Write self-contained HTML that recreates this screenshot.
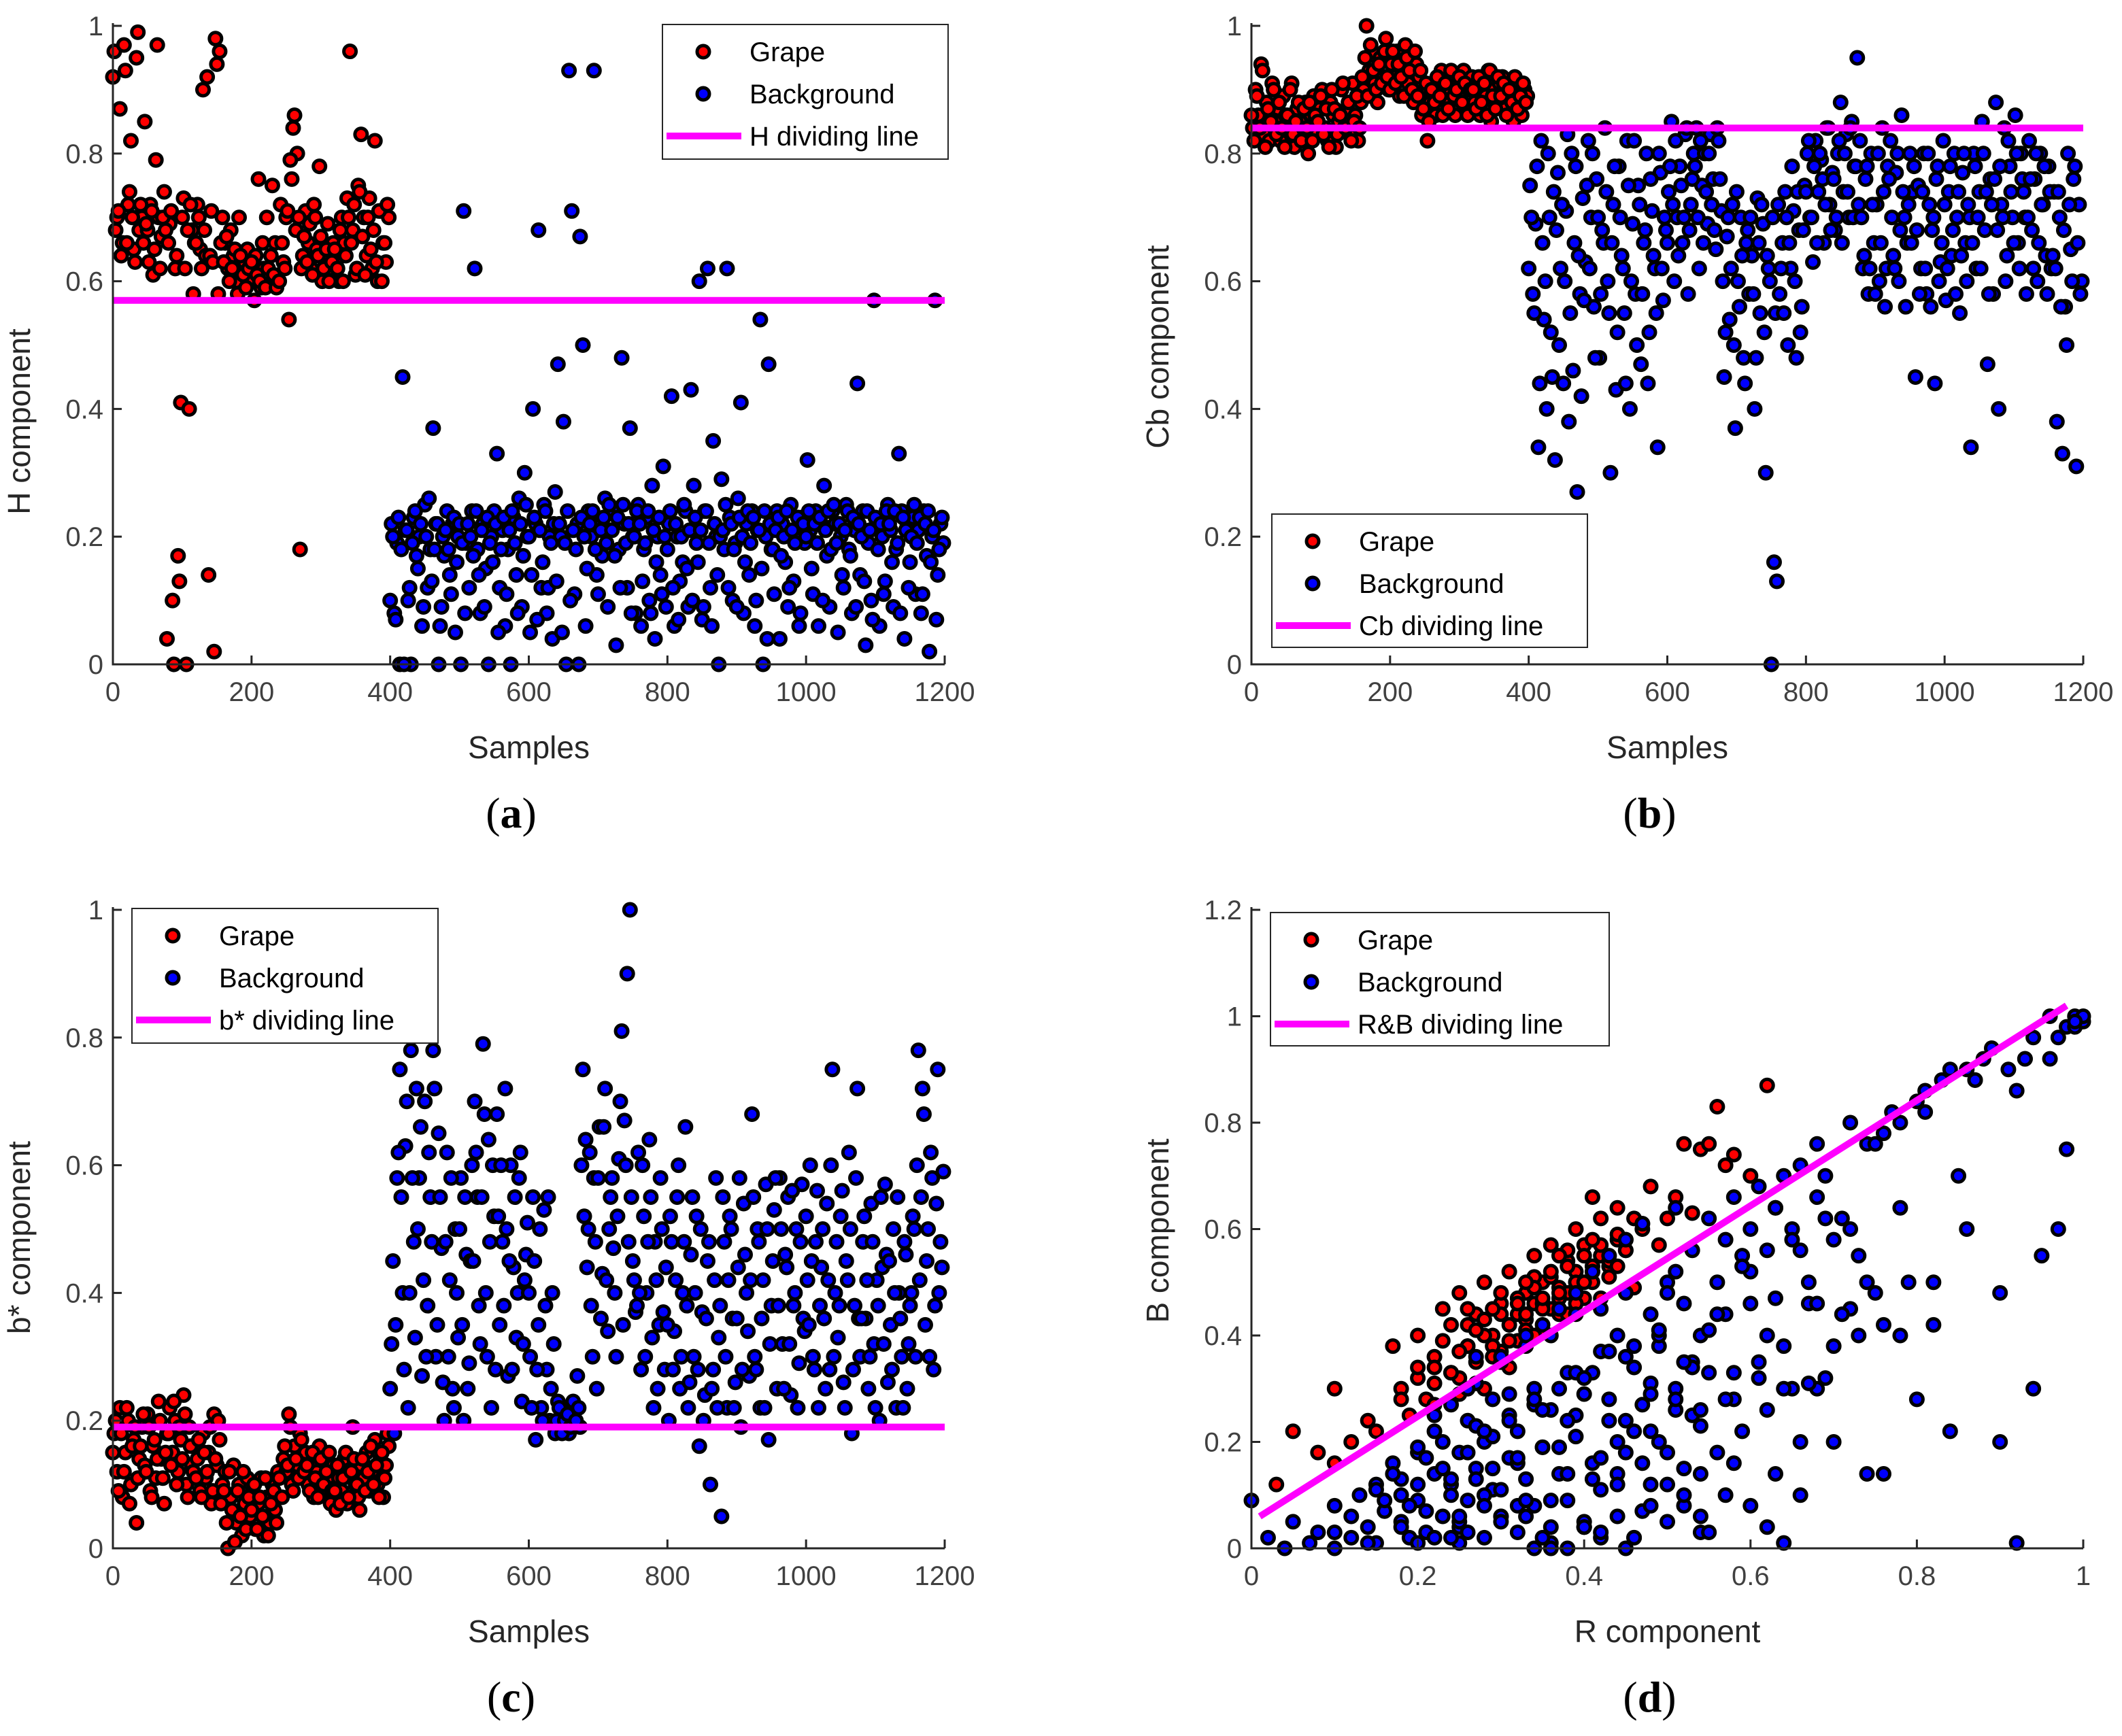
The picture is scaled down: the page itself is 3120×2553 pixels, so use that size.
<!DOCTYPE html>
<html><head><meta charset="utf-8">
<style>
html,body{margin:0;padding:0;background:#fff;}
svg{display:block;font-family:"Liberation Sans",sans-serif;}
</style></head>
<body>
<svg id="fig" width="3120" height="2553" viewBox="0 0 3120 2553" xmlns="http://www.w3.org/2000/svg"></svg>
<script>
// ---------- data (hundredths) ----------
const hGrape=[96,70,87,66,93,72,82,65,95,68,70,85,68,72,61,79,70,67,74,4,69,10,62,17,41,73,0,40,68,66,72,65,90,64,14,71,2,94,96,70,66,62,68,64,60,70,62,63,65,61,60,64,76,59,62,70,61,75,66,60,72,63,70,54,76,86,80,18,64,71,66,62,72,65,78,60,64,69,62,66,63,60,70,66,73,96,68,61,75,83,70,64,73,62,82,60,71,66,63,70];
const hGrape2=[92,68,71,64,97,66,74,70,63,99,72,66,69,63,71,65,97,62,70,68,66,71,0,64,13,70,62,68,72,58,66,70,62,68,92,64,63,98,58,66,63,67,60,62,65,58,64,61,59,62,63,57,61,60,66,59,62,64,61,59,60,66,62,71,79,84,68,70,62,67,63,69,61,70,64,67,62,65,60,63,65,62,68,60,64,70,66,72,62,74,67,61,70,65,68,63,71,60,66,72];
const hBack=[22,8,19,0,45,21,10,0,23,17,20,6,25,12,18,37,22,0,9,17,24,14,22,5,20,0,71,19,12,24,62,18,8,22,15,0,20,24,33,12,21,6,18,0,23,14,26,9,30,20,5,40,22,68,12,25,8,20,4,27,47,20,38,0,93,71,11,22,67,50,6,24,20,93,14,22,17,26,9,21,24,3,18,48,22,12,37,20,8,25,6,18,23,10,28,4,20,14,31,9,22,42,6,20,13,16,24,9,43,28,19,60,7,24,62,12,35,20,0,29,18,62,23,10,19,26,41,8,22,14,24,6,21,54,0,20,47,18,11,24,4,22,16,9,25,13,20,6,23,19,32,21,11,24,6,22,28,17,9,24,22,5,20,12,25,18,8,21,44,14,24,3,19,10,57,22,6,20,13,25,21,9,18,33,24,4,22,16,23,11,21,8,24,17,2,20,57,14,22,19];
const hBack2=[10,20,7,23,18,0,21,12,19,24,15,22,9,20,26,13,18,22,6,20,21,18,11,23,16,22,19,8,22,20,17,24,14,21,9,23,19,16,22,5,18,23,11,21,24,19,8,22,17,25,20,14,23,7,21,16,24,12,19,22,13,22,5,19,24,10,21,18,0,23,20,15,22,24,18,11,21,23,19,25,21,17,23,12,25,19,22,8,20,24,22,13,19,24,8,21,16,23,11,20,18,24,12,22,7,20,25,15,21,10,23,16,21,9,24,19,6,22,14,20,21,25,12,22,18,9,23,20,16,24,19,23,10,21,15,24,4,22,18,21,23,17,20,24,12,21,19,23,8,22,20,24,15,22,19,23,10,21,24,18,25,19,22,14,21,24,17,23,9,22,20,13,24,21,7,23,18,22,11,24,22,16,24,19,8,23,21,12,20,25,19,23,11,22,24,16,21,7,18,23];
const cbGrape=[84,90,86,94,83,88,82,91,85,87,82,89,86,84,91,81,87,85,83,88,80,86,89,83,87,90,84,82,88,86,81,85,90,84,87,83,91,86,82,88,90,100,93,96,91,88,95,92,98,90,94,92,96,89,93,97,91,95,88,94,92,86,90,82,88,91,86,89,93,87,90,88,92,86,91,89,93,87,90,92,88,91,86,92,89,93,85,90,88,91,92,87,90,89,85,91,88,86,90,89];
const cbGrape2=[86,82,89,84,93,81,87,85,90,83,88,84,81,86,90,83,85,88,82,87,84,88,82,86,85,89,83,87,81,90,87,83,86,91,84,88,82,85,89,84,92,95,89,97,93,90,94,91,96,92,90,96,91,94,92,89,95,93,90,96,89,93,87,91,85,90,88,92,89,86,91,87,93,89,90,92,88,91,86,90,90,87,92,88,91,86,93,89,87,92,89,91,86,90,88,92,87,89,91,88];
const cbBack=[75,58,69,34,82,54,40,70,45,32,77,62,44,71,38,80,66,27,58,73,63,82,70,56,76,48,68,84,60,30,72,43,78,64,55,82,40,69,58,75,47,66,80,52,71,62,34,77,57,68,74,85,60,70,78,66,83,58,72,80,84,62,75,80,69,83,76,65,82,71,45,67,54,72,37,60,70,48,66,58,64,40,73,55,69,30,62,0,16,13,58,66,74,50,62,71,48,68,56,75,80,70,63,82,74,79,66,84,72,77,68,80,88,74,83,70,85,78,95,82,62,76,58,80,66,72,60,84,56,78,82,64,77,60,86,70,66,80,74,45,75,62,80,58,72,68,44,78,63,82,57,74,64,80,70,55,77,66,72,34,80,62,74,85,68,47,76,58,88,40,72,84,64,78,70,86,66,80,74,58,82,68,76,60,80,72,64,78,62,74,38,70,33,56,80,65,76,31,72,60];
const cbBack2=[62,70,55,78,44,66,60,80,52,74,68,50,72,60,83,55,46,78,64,42,57,75,62,80,48,70,58,66,74,55,66,78,52,70,62,44,75,60,82,50,72,58,68,44,76,64,55,80,62,70,66,78,72,82,64,75,70,84,68,76,78,70,82,66,74,80,72,68,84,76,60,52,70,62,50,74,56,64,44,68,70,58,48,66,72,52,64,60,70,55,72,62,55,70,66,78,60,74,52,68,74,82,70,78,66,80,76,72,84,68,76,70,82,66,80,74,84,70,78,72,70,64,78,62,72,58,80,66,74,62,76,70,62,80,68,74,56,72,66,78,68,58,74,62,80,56,70,76,60,66,72,62,78,68,58,74,64,80,60,70,66,78,70,62,80,74,58,72,76,68,78,70,60,82,74,66,80,62,76,70,70,76,62,80,66,72,78,58,74,64,62,74,56,68,50,72,60,78,66,58];
const bGrape=[18,12,22,8,15,20,10,17,4,14,19,13,21,9,16,11,23,14,7,18,22,15,20,12,17,24,10,19,13,16,14,9,18,11,15,7,21,13,17,10,12,0,8,13,4,10,2,7,11,5,9,3,7,11,2,8,4,10,6,12,8,14,12,21,10,16,13,18,11,15,10,13,8,12,16,9,14,11,7,13,6,11,9,14,7,12,19,10,8,13,11,15,9,12,17,10,14,8,13,16];
const bGrape2=[15,20,9,18,12,22,7,16,19,11,16,21,12,19,8,17,14,20,11,15,18,13,23,10,19,14,21,8,16,12,11,17,8,15,12,19,9,14,20,7,9,4,12,6,1,9,5,12,3,8,6,10,3,8,5,11,2,7,9,4,11,8,16,13,19,9,14,11,17,12,13,9,15,11,8,14,10,12,15,9,9,13,7,11,15,8,12,14,10,6,14,9,12,16,10,13,8,15,11,18];
const bBack=[32,18,58,75,40,63,22,78,48,72,58,27,70,38,55,78,30,65,47,20,62,42,25,50,33,58,20,46,29,60,70,55,32,79,40,64,22,52,68,35,48,72,27,60,44,33,58,23,42,51,30,55,17,35,22,53,28,20,40,18,23,20,19,21,18,22,20,27,19,75,64,50,38,58,25,66,43,72,34,55,47,30,61,81,67,90,100,45,37,62,28,52,40,64,33,48,25,58,37,44,20,48,34,55,25,40,66,22,46,30,52,16,37,24,45,10,28,58,33,5,48,22,52,36,26,44,19,54,40,27,68,30,50,22,42,57,17,38,53,25,58,32,46,55,24,38,50,29,57,34,42,60,30,48,22,44,36,54,28,75,40,33,52,26,45,62,18,38,72,30,48,36,25,54,32,42,20,44,57,26,35,50,22,40,30,48,25,38,52,30,78,55,68,45,30,58,38,75,48,59];
const bBack2=[25,45,35,62,55,28,70,40,58,33,50,66,42,30,62,48,72,35,55,26,48,30,58,22,40,50,35,55,25,45,45,62,38,55,68,30,48,60,28,52,60,38,50,45,28,55,40,62,32,46,40,22,45,28,50,20,38,55,25,32,20,22,18,20,21,19,23,20,22,60,52,44,62,30,48,58,36,66,42,50,58,40,52,70,35,60,48,55,42,38,40,60,30,48,55,22,42,35,50,28,35,52,28,42,60,30,48,38,26,55,40,28,50,20,36,48,25,42,22,38,55,30,42,50,22,36,58,28,46,34,42,55,28,48,36,22,50,32,45,58,38,50,25,44,32,56,40,22,48,36,52,35,45,28,56,38,50,25,42,60,30,48,38,56,22,42,50,28,58,36,36,52,42,30,48,22,38,55,32,46,45,28,40,55,36,22,46,32,40,50,60,42,72,35,50,62,28,54,40,44];
const dGrapeR=[3,5,8,10,10,12,14,15,17,18,19,20,20,21,22,22,23,24,24,25,25,26,27,27,28,28,29,30,30,31,31,32,32,33,33,34,34,35,35,36,36,37,37,38,38,39,39,40,40,41,41,42,42,43,44,44,45,46,47,48,50,52,54,55,56,58,60,62,22,26,30,34,38,29,33,37,41,25,35,45,24,26,28,29,30,31,32,33,34,35,36,37,38,39,40,41,42,43,44,45,27,29,31,33,35,37,39,41,43,25,28,30,32,34,36,38,40,42,44,46,18,20,22,23,26,47,49,51,53,57];
const dGrapeB=[12,22,18,30,16,20,24,22,38,30,25,40,32,28,36,27,45,33,42,29,48,38,35,44,30,50,40,46,37,34,52,44,39,48,43,55,46,41,50,45,57,49,44,54,48,60,52,47,57,50,66,55,62,53,58,64,56,62,60,68,62,76,75,76,83,74,70,87,34,42,48,51,56,38,44,47,53,32,46,58,33,38,40,36,44,42,47,41,49,45,51,48,53,50,55,52,57,54,59,56,41,45,39,50,47,55,46,58,51,37,43,35,46,40,52,44,50,47,53,49,28,34,31,39,45,61,57,66,63,72];
const dBackR=[0,2,4,5,7,8,10,10,12,13,14,15,15,16,17,18,18,19,20,20,21,22,22,23,24,24,25,25,26,26,27,27,28,28,29,29,30,30,31,31,32,32,33,33,34,34,35,35,36,36,37,37,38,38,39,39,40,40,41,41,42,42,43,43,44,44,45,45,46,46,47,47,48,48,49,49,50,50,51,51,52,52,53,53,54,54,55,55,56,56,57,57,58,58,59,59,60,60,61,61,62,62,63,63,64,64,65,65,66,66,67,67,68,68,69,70,71,72,73,74,75,76,77,78,79,80,81,82,83,84,85,86,87,88,89,90,91,92,93,94,95,96,97,97,98,98,99,99,100,100,30,35,40,45,50,55,25,32,38,44,28,36,42,48,52,58,62,68,72,78,82,86,90,94,96,74,80,84,60,66,20,26,34,40,46,54,64,70,76,92,
10,12,14,16,18,20,21,22,23,24,25,26,27,28,29,30,31,32,33,34,35,36,37,38,39,40,41,42,43,44,45,46,47,48,49,50,51,52,53,54,15,17,19,21,23,25,27,29,31,33,35,37,39,41,43,45,47,49,51,53,20,22,24,26,28,30,32,34,36,38,40,42,44,46,48,50,52,54,56,58,60,62,64,66,68,70,72,74,76,78,55,57,59,61,63,65,67,69,71,73,18,24,30,36,42,48,54,27,33,39,45,51,57,63,69,75,81,87,93,99];
const dBackB=[9,2,0,5,1,3,8,0,2,10,4,12,1,7,16,5,13,2,9,18,3,14,22,6,12,27,4,18,9,24,15,31,2,20,11,28,6,35,17,25,3,22,13,38,8,30,19,42,1,26,14,45,9,33,21,48,4,29,16,52,11,37,24,55,6,40,18,58,2,34,27,61,12,44,20,38,5,50,30,64,15,46,25,56,3,40,33,62,18,50,10,44,28,66,22,55,8,60,32,68,26,56,14,64,38,70,30,60,20,72,46,50,66,76,32,58,62,80,40,76,48,78,82,80,50,84,86,42,88,90,70,90,88,92,94,48,90,86,92,96,55,92,96,60,98,75,100,98,99,100,6,2,5,0,12,3,1,8,0,14,10,4,2,22,8,16,4,30,45,40,50,60,20,30,100,14,28,22,46,10,1,3,0,4,2,6,1,20,14,1,
3,6,1,9,4,12,7,2,15,10,5,18,13,8,21,11,24,16,6,27,19,9,30,14,25,4,33,17,28,12,36,22,7,31,40,18,26,10,35,23,11,14,8,17,20,6,23,15,29,9,26,19,33,13,37,24,16,41,28,34,19,25,13,30,22,36,17,28,40,24,32,45,20,38,29,48,35,26,44,33,52,40,30,56,46,38,60,50,42,64,41,28,53,35,47,58,31,62,44,55,10,2,5,0,3,8,14,36,40,44,48,52,58,64,70,76,82,88,92,99];
const xTicksSamples=[0,200,400,600,800,1000,1200];
const yTicks01=[0,0.2,0.4,0.6,0.8,1];
const yTicksD=[0,0.2,0.4,0.6,0.8,1,1.2];
const xTicksD=[0,0.2,0.4,0.6,0.8,1];
const thresholdH=0.57, thresholdCb=0.84, thresholdB=0.19;
const dLineR=[0.01,0.98], dLineB=[0.06,1.02];

const NS="http://www.w3.org/2000/svg";
const fig=document.getElementById('fig');
function mk(tag,attrs,parent){const e=document.createElementNS(NS,tag);for(const k in attrs)e.setAttribute(k,attrs[k]);(parent||fig).appendChild(e);return e;}

function panel(cfg){
  const g=mk('g',{});
  
  
  const sx=v=>cfg.x0+(v-cfg.xmin)/(cfg.xmax-cfg.xmin)*(cfg.x1-cfg.x0);
  const sy=v=>cfg.y0-(v-cfg.ymin)/(cfg.ymax-cfg.ymin)*(cfg.y0-cfg.y1);
  const drawPts=(xs,ys,fill,nm)=>{
    const sg=mk('g',{},g);
    
    
    for(let i=0;i<ys.length;i++){
      const c=mk('circle',{cx:sx(xs[i]),cy:sy(ys[i]),r:9,fill:fill,stroke:'#000','stroke-width':5},sg);
      
      
    }
  };
  drawPts(cfg.gx,cfg.gy,'#ff0000','grape-series');
  drawPts(cfg.bx,cfg.by,'#0000ff','background-series');
  const ln=mk('line',{x1:sx(cfg.lx[0]),y1:sy(cfg.ly[0]),x2:sx(cfg.lx[1]),y2:sy(cfg.ly[1]),stroke:'#ff00ff','stroke-width':10},g);
  
  
  const ax=mk('path',{d:`M${cfg.x0},${cfg.y1-4}V${cfg.y0}H${cfg.x1}`,fill:'none',stroke:'#262626','stroke-width':3},g);
  
  
  cfg.xt.forEach(v=>{
    mk('line',{x1:sx(v),x2:sx(v),y1:cfg.y0,y2:cfg.y0-13,stroke:'#262626','stroke-width':3},g);
    const t=mk('text',{x:sx(v),y:cfg.y0+54,'text-anchor':'middle','font-size':40,fill:'#404040'},g);
    
    
    t.textContent=String(v);
  });
  cfg.yt.forEach(v=>{
    mk('line',{x1:cfg.x0,x2:cfg.x0+13,y1:sy(v),y2:sy(v),stroke:'#262626','stroke-width':3},g);
    const t=mk('text',{x:cfg.x0-14,y:sy(v)+14,'text-anchor':'end','font-size':40,fill:'#404040'},g);
    
    
    t.textContent=String(v);
  });
  const xl=mk('text',{x:(cfg.x0+cfg.x1)/2,y:cfg.y0+138,'text-anchor':'middle','font-size':46,fill:'#262626'},g);
  
  
  xl.textContent=cfg.xlabel;
  const yl=mk('text',{x:0,y:0,'text-anchor':'middle','font-size':46,fill:'#262626',transform:`translate(${cfg.ylx},${cfg.yly}) rotate(-90)`},g);
  
  
  yl.textContent=cfg.ylabel;
  const cap=mk('text',{x:(cfg.x0+cfg.x1)/2-26,y:cfg.y0+240,'text-anchor':'middle','font-size':64,fill:'#000','font-family':'Liberation Serif, serif'},g);
  
  
  cap.innerHTML='(<tspan font-weight="bold">'+cfg.cap+'</tspan>)';
  const L=cfg.leg;
  const lg=mk('g',{},g);
  
  
  mk('rect',{x:L[0],y:L[1],width:L[2],height:L[3],fill:'#fff',stroke:'#262626','stroke-width':2},lg);
  const rows=[['Grape','#ff0000'],['Background','#0000ff'],[cfg.lname,null]];
  rows.forEach((r,i)=>{
    const cy=L[1]+40+i*62;
    if(r[1]){const c=mk('circle',{cx:L[0]+60,cy:cy,r:9,fill:r[1],stroke:'#000','stroke-width':5},lg);
      
      }
    else{const l=mk('line',{x1:L[0]+6,x2:L[0]+116,y1:cy,y2:cy,stroke:'#ff00ff','stroke-width':10},lg);
      
      }
    const t=mk('text',{x:L[0]+128,y:cy+14,'font-size':40,fill:'#000'},lg);
    
    
    t.textContent=r[0];
  });
}
const idx=(n,off)=>Array.from({length:n},(_,i)=>off+i*4+2);
const idx2=(n,off)=>Array.from({length:n},(_,i)=>off+i*4);
const pct=a=>a.map(v=>v/100);

panel({name:'panel-a',x0:166,x1:1389,y0:977,y1:38,xmin:0,xmax:1200,ymin:0,ymax:1,
  gx:idx(100,0).concat(idx2(100,0)),gy:pct(hGrape.concat(hGrape2)),
  bx:idx(200,400).concat(idx2(200,400)),by:pct(hBack.concat(hBack2)),lx:[0,1200],ly:[thresholdH,thresholdH],
  xt:xTicksSamples,yt:yTicks01,xlabel:'Samples',ylabel:'H component',ylx:44,yly:620,cap:'a',
  leg:[974,36,420,198],lname:'H dividing line'});
panel({name:'panel-b',x0:1840,x1:3063,y0:977,y1:38,xmin:0,xmax:1200,ymin:0,ymax:1,
  gx:idx(100,0).concat(idx2(100,0)),gy:pct(cbGrape.concat(cbGrape2)),
  bx:idx(200,400).concat(idx2(200,400)),by:pct(cbBack.concat(cbBack2)),lx:[0,1200],ly:[thresholdCb,thresholdCb],
  xt:xTicksSamples,yt:yTicks01,xlabel:'Samples',ylabel:'Cb component',ylx:1718,yly:510,cap:'b',
  leg:[1870,756,464,196],lname:'Cb dividing line'});
panel({name:'panel-c',x0:166,x1:1389,y0:2277,y1:1338,xmin:0,xmax:1200,ymin:0,ymax:1,
  gx:idx(100,0).concat(idx2(100,0)),gy:pct(bGrape.concat(bGrape2)),
  bx:idx(200,400).concat(idx2(200,400)),by:pct(bBack.concat(bBack2)),lx:[0,1200],ly:[thresholdB,thresholdB],
  xt:xTicksSamples,yt:yTicks01,xlabel:'Samples',ylabel:'b* component',ylx:44,yly:1820,cap:'c',
  leg:[194,1336,450,198],lname:'b* dividing line'});
panel({name:'panel-d',x0:1840,x1:3063,y0:2277,y1:1338,xmin:0,xmax:1,ymin:0,ymax:1.2,
  gx:pct(dGrapeR),gy:pct(dGrapeB),bx:pct(dBackR),by:pct(dBackB),lx:dLineR,ly:dLineB,
  xt:xTicksD,yt:yTicksD,xlabel:'R component',ylabel:'B component',ylx:1718,yly:1810,cap:'d',
  leg:[1868,1342,498,196],lname:'R&B dividing line'});
</script>
</body></html>
